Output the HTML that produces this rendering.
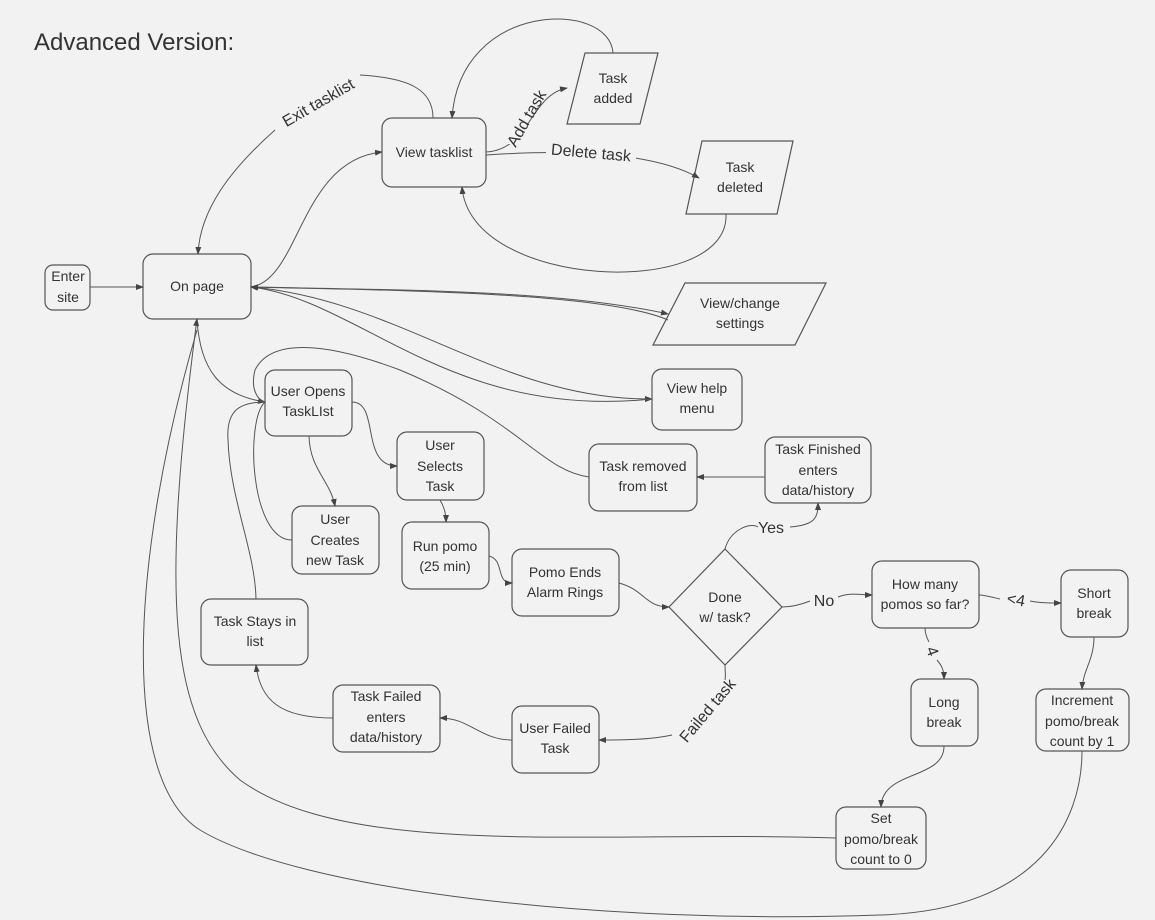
<!DOCTYPE html>
<html><head><meta charset="utf-8"><style>
html,body{margin:0;padding:0;background:#f2f2f2}
svg{display:block}
text{font-family:"Liberation Sans",sans-serif;fill:#333;font-size:14px;text-anchor:middle}
.n{fill:none;stroke:#555;stroke-width:1.2}
.e{fill:none;stroke:#555;stroke-width:1}
</style></head><body>
<svg width="1155" height="920" viewBox="0 0 1155 920">
<defs><marker id="a" markerWidth="8" markerHeight="6" refX="7" refY="3" orient="auto" markerUnits="userSpaceOnUse"><path d="M0,0 L8,3 L0,6z" fill="#444"/></marker></defs>
<text x="34" y="50" style="font-size:24px;text-anchor:start">Advanced Version:</text>

<rect class="n" x="45" y="265" width="45" height="45" rx="8"/><text x="68" y="281">Enter</text><text x="68" y="302">site</text>
<rect class="n" x="143" y="254" width="108" height="65" rx="10"/><text x="197" y="291">On page</text>
<rect class="n" x="382" y="118" width="104" height="69" rx="10"/><text x="434" y="157">View tasklist</text>
<polygon class="n" points="585,53 658,53 640,124 567,124"/><text x="613" y="83">Task</text><text x="613" y="103">added</text>
<polygon class="n" points="702,141 793,141 777,214 686,214"/><text x="740" y="172">Task</text><text x="740" y="192">deleted</text>
<polygon class="n" points="685,283 826,283 795,345 653,345"/><text x="740" y="308">View/change</text><text x="740" y="328">settings</text>
<rect class="n" x="652" y="369" width="90" height="61" rx="10"/><text x="697" y="393">View help</text><text x="697" y="413">menu</text>
<rect class="n" x="265" y="370" width="87" height="66" rx="10"/><text x="308" y="396">User Opens</text><text x="308" y="416">TaskLIst</text>
<rect class="n" x="397" y="432" width="87" height="68" rx="10"/><text x="440" y="450">User</text><text x="440" y="471">Selects</text><text x="440" y="491">Task</text>
<rect class="n" x="292" y="506" width="87" height="68" rx="10"/><text x="335" y="524">User</text><text x="335" y="545">Creates</text><text x="335" y="565">new Task</text>
<rect class="n" x="402" y="522" width="87" height="67" rx="10"/><text x="445" y="551">Run pomo</text><text x="445" y="571">(25 min)</text>
<rect class="n" x="512" y="549" width="107" height="67" rx="10"/><text x="565" y="577">Pomo Ends</text><text x="565" y="597">Alarm Rings</text>
<rect class="n" x="589" y="444" width="108" height="67" rx="10"/><text x="643" y="471">Task removed</text><text x="643" y="491">from list</text>
<rect class="n" x="765" y="437" width="106" height="66" rx="10"/><text x="818" y="454">Task Finished</text><text x="818" y="475">enters</text><text x="818" y="495">data/history</text>
<polygon class="n" points="725,549 782,607 725,665 669,607"/><text x="725" y="602">Done</text><text x="725" y="622">w/ task?</text>
<rect class="n" x="872" y="561" width="107" height="67" rx="10"/><text x="925" y="589">How many</text><text x="925" y="609">pomos so far?</text>
<rect class="n" x="1061" y="570" width="67" height="67" rx="10"/><text x="1094" y="598">Short</text><text x="1094" y="618">break</text>
<rect class="n" x="911" y="679" width="67" height="67" rx="10"/><text x="944" y="707">Long</text><text x="944" y="727">break</text>
<rect class="n" x="1036" y="689" width="93" height="62" rx="10"/><text x="1082" y="705">Increment</text><text x="1082" y="726">pomo/break</text><text x="1082" y="746">count by 1</text>
<rect class="n" x="836" y="807" width="90" height="62" rx="10"/><text x="881" y="823">Set</text><text x="881" y="844">pomo/break</text><text x="881" y="864">count to 0</text>
<rect class="n" x="512" y="706" width="87" height="67" rx="10"/><text x="555" y="733">User Failed</text><text x="555" y="753">Task</text>
<rect class="n" x="333" y="685" width="107" height="67" rx="10"/><text x="386" y="701">Task Failed</text><text x="386" y="722">enters</text><text x="386" y="742">data/history</text>
<rect class="n" x="201" y="599" width="107" height="66" rx="10"/><text x="255" y="626">Task Stays in</text><text x="255" y="646">list</text>

<path class="e" marker-end="url(#a)" d="M90,287 L143,287"/>
<path class="e" marker-end="url(#a)" d="M251,287 C300,280 300,160 382,152"/>
<path class="e" d="M433,118 C433,90 410,78 360,75"/>
<path class="e" marker-end="url(#a)" d="M275,130 C230,170 200,210 198,254"/>
<path class="e" marker-end="url(#a)" d="M486,152 C530,150 530,95 567,88"/>
<path class="e" marker-end="url(#a)" d="M613,53 C610,0 460,0 452,118"/>
<path class="e" marker-end="url(#a)" d="M486,155 C560,150 650,150 699,178"/>
<path class="e" marker-end="url(#a)" d="M726,214 C730,300 470,290 462,187"/>
<path class="e" marker-end="url(#a)" d="M251,287 C400,290 560,290 668,314"/>
<path class="e" marker-end="url(#a)" d="M668,320 C600,290 350,290 251,287"/>
<path class="e" marker-end="url(#a)" d="M251,287 C400,300 500,400 652,399"/>
<path class="e" marker-end="url(#a)" d="M652,399 C450,420 360,300 251,287"/>
<path class="e" marker-end="url(#a)" d="M197,319 C200,370 220,395 265,402"/>
<path class="e" d="M589,477 C540,470 520,420 400,370 C320,340 270,340 255,370 C250,390 258,400 265,402"/>
<path class="e" marker-end="url(#a)" d="M352,402 C380,402 360,466 397,466"/>
<path class="e" marker-end="url(#a)" d="M309,436 C310,470 330,480 335,506"/>
<path class="e" d="M292,540 C250,540 245,420 265,402"/>
<path class="e" marker-end="url(#a)" d="M440,500 C445,508 446,515 446,522"/>
<path class="e" marker-end="url(#a)" d="M489,556 C505,560 495,583 512,583"/>
<path class="e" marker-end="url(#a)" d="M619,583 C645,590 645,607 669,607"/>
<path class="e" marker-end="url(#a)" d="M725,549 C730,530 750,522 758,527 M790,527 C815,525 818,518 818,503"/>
<path class="e" marker-end="url(#a)" d="M765,477 L697,477"/>
<path class="e" d="M782,607 C795,607 805,603 810,601"/>
<path class="e" marker-end="url(#a)" d="M838,597 C850,592 860,595 872,595"/>
<path class="e" d="M979,595 C985,595 995,598 1000,599"/>
<path class="e" marker-end="url(#a)" d="M1030,601 C1040,603 1050,603 1061,603"/>
<path class="e" d="M925,628 C925,635 928,640 929,642"/>
<path class="e" marker-end="url(#a)" d="M937,660 C942,666 944,670 944,679"/>
<path class="e" marker-end="url(#a)" d="M1094,637 C1094,660 1083,670 1082,689"/>
<path class="e" marker-end="url(#a)" d="M944,746 C944,780 882,770 881,807"/>
<path class="e" d="M725,665 C725,672 726,676 725,680"/>
<path class="e" marker-end="url(#a)" d="M672,735 C650,740 620,740 599,740"/>
<path class="e" marker-end="url(#a)" d="M512,740 C480,740 470,718 440,718"/>
<path class="e" marker-end="url(#a)" d="M333,718 C280,718 260,700 256,665"/>
<path class="e" d="M256,599 C255,550 230,500 228,440 C226,410 240,402 265,402"/>
<path class="e" marker-end="url(#a)" d="M836,838 C600,830 350,860 240,780 C170,720 160,600 197,319"/>
<path class="e" d="M1082,751 C1082,820 1040,910 880,915 C600,925 300,890 200,830 C120,780 130,560 197,330"/>

<text x="318" y="108" transform="rotate(-30 318 102)" style="font-size:16px">Exit tasklist</text>
<rect x="505" y="100" width="22" height="44" fill="#f2f2f2"/>
<text x="526" y="124" transform="rotate(-60 526 118)" style="font-size:16px">Add task</text>
<rect x="546" y="143" width="90" height="20" fill="#f2f2f2"/>
<text x="591" y="158" transform="rotate(5 591 153)" style="font-size:16px">Delete task</text>
<text x="771" y="533" style="font-size:16px">Yes</text>
<text x="824" y="606" style="font-size:16px">No</text>
<text x="1016" y="605" transform="rotate(10 1016 600)" style="font-size:16px">&lt;4</text>
<text x="933" y="657" transform="rotate(70 933 651)" style="font-size:16px">4</text>
<text x="707" y="716" transform="rotate(-50 707 710)" style="font-size:16px">Failed task</text>
</svg>
</body></html>
